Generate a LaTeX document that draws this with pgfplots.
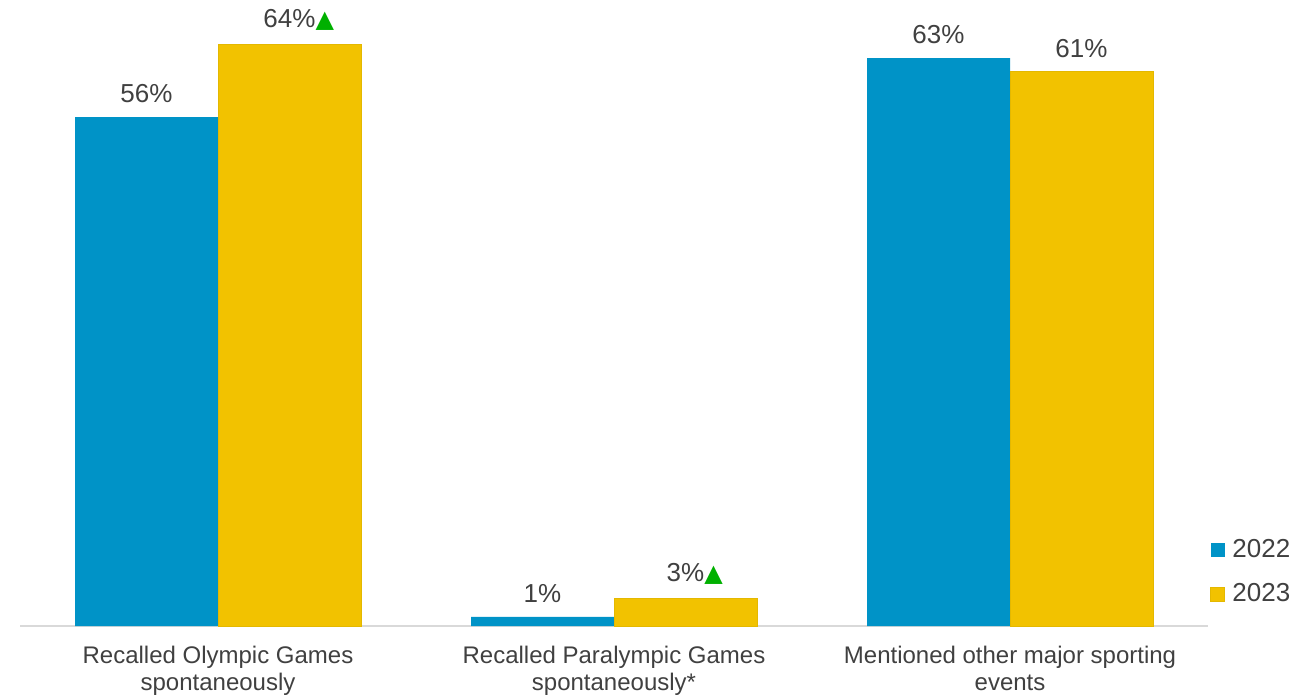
\documentclass[border=0pt]{standalone}
\usepackage{pgfplots}
\pgfplotsset{compat=1.18}
\usepackage{fontspec}
\setmainfont{Liberation Sans}
\newfontfamily\dejavu{DejaVu Sans}
\definecolor{cblue}{RGB}{0,147,199}
\definecolor{cyellow}{RGB}{242,194,0}
\definecolor{cyedge}{RGB}{228,184,0}
\definecolor{ctext}{RGB}{64,64,64}
\definecolor{cgreen}{RGB}{0,176,0}
\definecolor{caxis}{RGB}{217,217,217}
\newcommand{\up}{\rlap{{\dejavu\fontsize{12}{14}\selectfont\color{cgreen}▲}}}
\begin{document}
\begin{tikzpicture}
\path[use as bounding box] (-10pt,-34.5pt) rectangle (639.5pt,313pt);
\begin{axis}[
  scale only axis,
  width=594pt, height=313pt,
  ybar=0pt, bar width=71.5pt,
  xmin=-0.5, xmax=2.5, ymin=0, ymax=68.9,
  axis y line=none,
  axis x line*=bottom,
  x axis line style={caxis, line width=1pt, -},
  xtick={0,1,2},
  major tick length=0pt,
  xticklabels={{Recalled Olympic Games\\spontaneously},{Recalled Paralympic Games\\spontaneously*},{Mentioned other major sporting\\events}},
  xticklabel style={align=center, font=\fontsize{12}{13.6}\selectfont, text=ctext, yshift=-6.5pt},
  nodes near coords,
  point meta=explicit symbolic,
  every node near coord/.append style={font=\fontsize{13}{15}\selectfont, text=ctext, inner sep=0pt, yshift=7pt, anchor=south},
  legend style={at={(rel axis cs:1,0)}, anchor=south west, draw=none, fill=none, inner sep=0pt, font=\fontsize{13}{15}\selectfont, text=ctext, row sep=7.5pt, xshift=1pt, yshift=8.5pt},
  legend cell align=left,
  legend image code/.code={\fill[#1] (0pt,-3.5pt) rectangle (7pt,3.5pt);},
]
\addplot[fill=cblue, draw=none] coordinates {(0,56) [56\%] (1,1) [1\%] (2,62.5) [63\%]};
\addplot[fill=cyellow, draw=cyedge, line width=0.5pt] coordinates {(0,64) [64\%\up] (1,3) [3\%\up] (2,61) [61\%]};
\legend{\hspace{1.5pt}2022,\hspace{1.5pt}2023}
\end{axis}
\end{tikzpicture}
\end{document}
